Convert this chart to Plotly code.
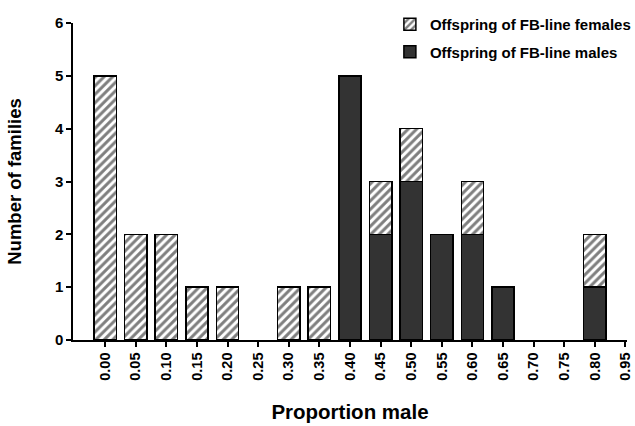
import plotly.graph_objects as go

categories = ["0.00", "0.05", "0.10", "0.15", "0.20", "0.25", "0.30", "0.35", "0.40",
              "0.45", "0.50", "0.55", "0.60", "0.65", "0.70", "0.75", "0.80", "0.95"]
males = [0, 0, 0, 0, 0, 0, 0, 0, 5, 2, 3, 2, 2, 1, 0, 0, 1, 0]
females = [5, 2, 2, 1, 1, 0, 1, 1, 0, 1, 1, 0, 1, 0, 0, 0, 1, 0]

FONT = "Liberation Sans, Arial, sans-serif"


def nz(vals):
    return [v if v else None for v in vals]


fig = go.Figure()
fig.add_trace(go.Bar(
    x=categories, y=nz(males), name="Offspring of FB-line males",
    marker=dict(color="#333333", line=dict(color="black", width=1.5)),
    width=0.73, legendgroup="m", legendrank=2,
))
fig.add_trace(go.Bar(
    x=categories, y=nz(females), name="Offspring of FB-line females",
    marker=dict(color="white", line=dict(color="black", width=1.5),
                pattern=dict(shape="/", fgcolor="black", bgcolor="white", size=6, solidity=0.5)),
    width=0.73, legendgroup="f", legendrank=1,
))

fig.update_layout(
    barmode="stack",
    width=635, height=426,
    margin=dict(l=73, r=8, t=8, b=86, autoexpand=False),
    paper_bgcolor="white", plot_bgcolor="white",
    font=dict(family=FONT, color="black", weight="bold"),
    legend=dict(x=0.572, y=1.0, xanchor="left", yanchor="top",
                font=dict(size=15, family=FONT, weight="bold"),
                tracegroupgap=5, bgcolor="rgba(255,255,255,0)"),
    xaxis=dict(
        type="category", range=[-1.05, 17.05], automargin=False,
        showline=True, linecolor="black", linewidth=1.5,
        ticks="outside", ticklen=5, tickcolor="black", tickwidth=1.5,
        tickangle=-90, tickfont=dict(size=14.5, family=FONT, weight="bold"),
        title=dict(text="Proportion male", font=dict(size=20.5, family=FONT, weight="bold"), standoff=25),
    ),
    yaxis=dict(
        range=[0, 6], dtick=1, domain=[0, 0.9548], automargin=False,
        showline=True, linecolor="black", linewidth=1.5,
        ticks="outside", ticklen=5, tickcolor="black", tickwidth=1.5,
        showgrid=False, zeroline=False,
        tickfont=dict(size=15, family=FONT, weight="bold"),
        title=dict(text="Number of families", font=dict(size=18.5, family=FONT, weight="bold"), standoff=28),
    ),
)

fig.write_html("out.html", config={"displayModeBar": False},
               post_script="document.body.style.margin='0px';")
